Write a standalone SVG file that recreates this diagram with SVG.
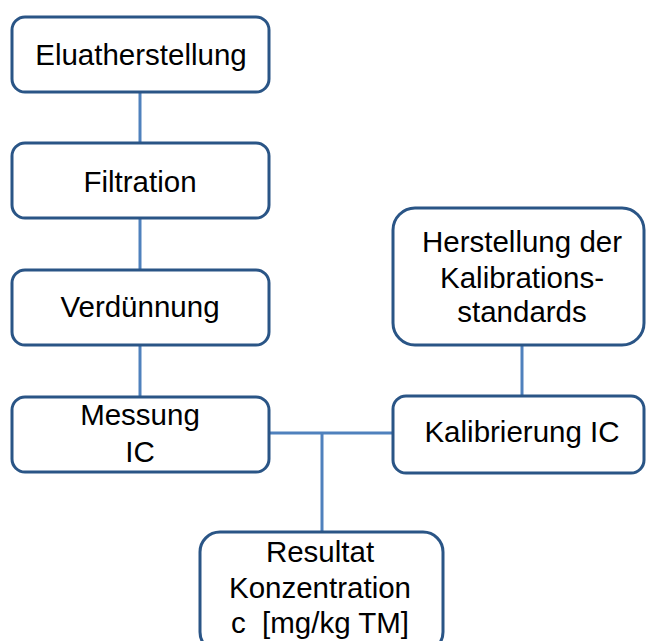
<svg xmlns="http://www.w3.org/2000/svg" width="646" height="641" viewBox="0 0 646 641">
<style>
.box{fill:#fff;stroke:#2a5586;stroke-width:3}
.con{stroke:#4f81bd;stroke-width:3;fill:none}
text{font-family:"Liberation Sans",Arial,sans-serif;font-size:29.5px;fill:#000;text-anchor:middle;white-space:pre}
</style>
<rect width="646" height="641" fill="#fff"/>
<g id="connectors">
<line class="con" x1="140" y1="92" x2="140" y2="143"/>
<line class="con" x1="140" y1="218" x2="140" y2="270"/>
<line class="con" x1="140" y1="345" x2="140" y2="397"/>
<line class="con" x1="522" y1="345" x2="522" y2="396"/>
<line class="con" x1="269" y1="433" x2="393" y2="433"/>
<line class="con" x1="322" y1="433" x2="322" y2="532"/>
</g>
<g id="n1"><rect class="box" x="12" y="17" width="257" height="75" rx="13"/><text x="141" y="65">Eluatherstellung</text></g>
<g id="n2"><rect class="box" x="12" y="143" width="257" height="75" rx="13"/><text x="140" y="192">Filtration</text></g>
<g id="n3"><rect class="box" x="12" y="270" width="257" height="75" rx="13"/><text x="140" y="317">Verdünnung</text></g>
<g id="n4"><rect class="box" x="12" y="397" width="257" height="75" rx="13"/><text x="140" y="425">Messung</text><text x="140" y="462">IC</text></g>
<g id="n5"><rect class="box" x="393" y="208" width="251" height="137" rx="22"/><text x="522" y="252">Herstellung der</text><text x="522" y="288">Kalibrations-</text><text x="522" y="322">standards</text></g>
<g id="n6"><rect class="box" x="393" y="396" width="251" height="77" rx="13"/><text x="522" y="442">Kalibrierung IC</text></g>
<g id="n7"><rect class="box" x="200" y="532" width="243" height="120" rx="20"/><text x="320" y="562">Resultat</text><text x="320" y="598">Konzentration</text><text x="320" y="633">c  [mg/kg TM]</text></g>
</svg>
